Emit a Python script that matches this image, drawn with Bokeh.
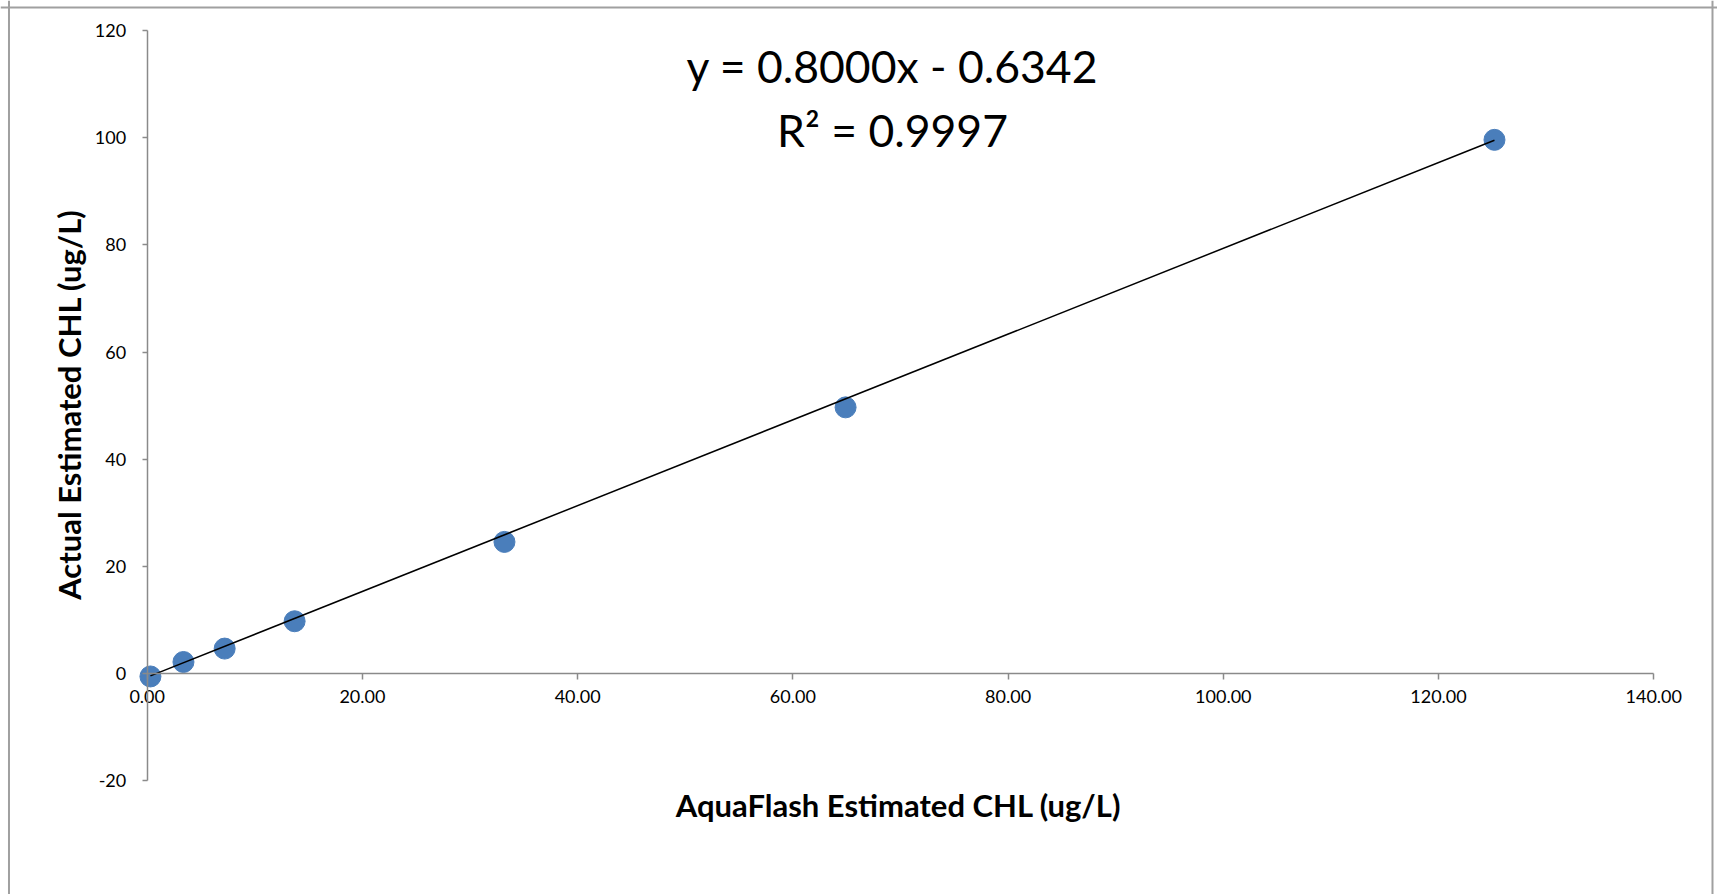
import math
from bokeh.plotting import figure
from bokeh.models import Range1d, FixedTicker, NumeralTickFormatter, Label, Span
from bokeh.embed import file_html
from bokeh.resources import INLINE

# ---- data ----
aquaflash_chl = [0.30, 3.37, 7.20, 13.70, 33.20, 64.90, 125.20]
actual_chl = [-0.50, 2.20, 4.70, 9.80, 24.60, 49.70, 99.60]
slope = 0.8000
intercept = -0.6342
r_squared = 0.9997
x_ticks = [0, 20, 40, 60, 80, 100, 120, 140]
y_ticks = [-20, 0, 20, 40, 60, 80, 100, 120]
x_title = "AquaFlash Estimated CHL (ug/L)"
y_title = "Actual Estimated CHL (ug/L)"

# ---- view (frame covers the whole chart box) ----
X_START, X_END = -13.632, 145.925
Y_START, Y_END = -41.173, 125.596
FONT = "Lato"

p = figure(width=1717, height=894,
           x_range=Range1d(X_START, X_END), y_range=Range1d(Y_START, Y_END),
           output_backend="svg", toolbar_location=None)
p.min_border_left = 0
p.min_border_right = 0
p.min_border_top = 0
p.min_border_bottom = 0
p.outline_line_color = None
p.grid.visible = False
p.background_fill_color = "white"
p.border_fill_color = "white"

# outer chart border (left, right, top)
BORDER = "#a0a0a0"
p.add_layout(Span(location=-12.843, dimension="height", line_color=BORDER, line_width=2))
p.add_layout(Span(location=145.46, dimension="height", line_color=BORDER, line_width=2))
p.add_layout(Span(location=124.29, dimension="width", line_color=BORDER, line_width=2))

AXIS_COLOR = "#8a8a8a"

xa = p.xaxis[0]
xa.fixed_location = 0
xa.bounds = (x_ticks[0], x_ticks[-1])
xa.ticker = FixedTicker(ticks=x_ticks)
xa.formatter = NumeralTickFormatter(format="0.00")
xa.axis_line_color = AXIS_COLOR
xa.axis_line_width = 1.5
xa.major_tick_line_color = AXIS_COLOR
xa.major_tick_line_width = 1.5
xa.major_tick_in = 0
xa.major_tick_out = 6
xa.minor_tick_line_color = None
xa.major_label_text_font = FONT
xa.major_label_text_font_size = "18px"
xa.major_label_text_color = "#000000"
xa.major_label_standoff = 10

ya = p.yaxis[0]
ya.fixed_location = 0
ya.bounds = (y_ticks[0], y_ticks[-1])
ya.ticker = FixedTicker(ticks=y_ticks)
ya.formatter = NumeralTickFormatter(format="0")
ya.axis_line_color = AXIS_COLOR
ya.axis_line_width = 1.5
ya.major_tick_line_color = AXIS_COLOR
ya.major_tick_line_width = 1.5
ya.major_tick_in = 0
ya.major_tick_out = 5
ya.minor_tick_line_color = None
ya.major_label_text_font = FONT
ya.major_label_text_font_size = "18px"
ya.major_label_text_color = "#000000"
ya.major_label_standoff = 16

# data points
p.scatter(aquaflash_chl, actual_chl, size=21, fill_color="#4A7EBB", line_color="#4A7EBB")

# linear trendline over the data range
tx = [min(aquaflash_chl), max(aquaflash_chl)]
ty = [slope * v + intercept for v in tx]
p.line(tx, ty, line_color="#000000", line_width=1.5)

# trendline equation
sign = "-" if intercept < 0 else "+"
eq_text = f"y = {slope:.4f}x {sign} {abs(intercept):.4f}"
r2_text = f"R\u00b2 = {r_squared:.4f}"
p.add_layout(Label(x=69.26, y=113.38, text=eq_text, text_font=FONT, text_font_size="44.5px",
                   text_align="center", text_baseline="middle", text_color="#000000"))
p.add_layout(Label(x=69.26, y=101.5, text=r2_text, text_font=FONT, text_font_size="44.5px",
                   text_align="center", text_baseline="middle", text_color="#000000"))

# axis titles
p.add_layout(Label(x=69.82, y=-24.57, text=x_title, text_font=FONT, text_font_size="31px",
                   text_font_style="bold", text_align="center", text_baseline="middle",
                   text_color="#000000"))
p.add_layout(Label(x=-7.22, y=50.23, text=y_title, text_font=FONT, text_font_size="31px",
                   text_font_style="bold", text_align="center", text_baseline="middle",
                   angle=math.pi / 2, text_color="#000000"))

open("out.html", "w").write(file_html(p, INLINE))
